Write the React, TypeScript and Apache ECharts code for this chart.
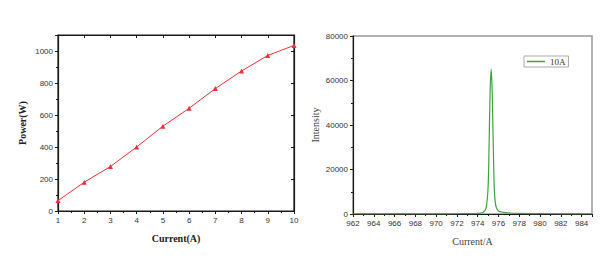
import React, { useEffect, useRef } from "react";
import * as echarts from "echarts";

const currentA = [1, 2, 3, 4, 5, 6, 7, 8, 9, 10];
const powerW = [65, 180, 278, 400, 530, 642, 765, 875, 972, 1035];

const wavelength = [962, 964, 966, 968, 970, 972, 973, 974, 974.5, 974.8, 975.0, 975.1, 975.2, 975.3, 975.4, 975.5, 975.6, 975.7, 975.8, 976.0, 976.5, 977, 978, 980, 982, 985];
const intensity = [50, 50, 60, 60, 80, 120, 180, 300, 700, 2500, 12000, 32000, 56000, 65000, 54000, 30000, 11000, 5000, 2800, 1300, 700, 450, 250, 150, 100, 80];

const tickFont = { fontFamily: "Liberation Sans, Arial, sans-serif", fontSize: 8, color: "#333", formatter: (v: number) => String(v) };
const serif = "Liberation Serif, Times New Roman, serif";

export default function App() {
  const ref = useRef<HTMLDivElement>(null);
  useEffect(() => {
    document.body.style.margin = "0";
    const chart = echarts.init(ref.current!, null, { renderer: "svg" });
    const axisLine = { show: true, onZero: false, lineStyle: { color: "#1a1a1a", width: 1.2 } };
    const tickLine = { color: "#1a1a1a", width: 1 };
    chart.setOption({
      animation: false,
      backgroundColor: "#fff",
      grid: [
        { left: 58, top: 35, width: 236, height: 176, show: true, borderColor: "#1a1a1a", borderWidth: 1.2, backgroundColor: "transparent" },
        { left: 353, top: 36, width: 239, height: 178, show: true, borderColor: "#999", borderWidth: 1.5, backgroundColor: "transparent" },
      ],
      legend: {
        data: ["10A"],
        left: 524,
        top: 56,
        orient: "vertical",
        borderColor: "#aaa",
        borderWidth: 1,
        padding: [1, 3, 1, 3],
        icon: "rect",
        itemWidth: 18,
        itemHeight: 1.5,
        itemGap: 2,
        textStyle: { fontFamily: serif, fontSize: 9, color: "#333" },
      },
      xAxis: [
        {
          gridIndex: 0, type: "value", min: 1, max: 10, interval: 1, position: "bottom",
          axisLine, splitLine: { show: false },
          axisTick: { show: true, length: 3, lineStyle: tickLine },
          minorTick: { show: true, splitNumber: 2, length: 2, lineStyle: tickLine },
          axisLabel: { ...tickFont, margin: 5 },
          name: "Current(A)", nameLocation: "middle", nameGap: 22,
          nameTextStyle: { fontFamily: serif, fontWeight: "bold", fontSize: 10, color: "#222" },
        },
        {
          gridIndex: 0, type: "value", min: 1, max: 10, interval: 1, position: "top",
          axisLine, splitLine: { show: false },
          axisTick: { show: true, inside: true, length: 3, lineStyle: tickLine },
          minorTick: { show: false },
          axisLabel: { show: false },
        },
        {
          gridIndex: 1, type: "value", min: 962, max: 985, interval: 2, position: "bottom",
          axisLine, splitLine: { show: false },
          axisTick: { show: true, length: 3, lineStyle: tickLine },
          minorTick: { show: true, splitNumber: 2, length: 2, lineStyle: tickLine },
          axisLabel: { ...tickFont, margin: 5, showMaxLabel: false },
          name: "Current/A", nameLocation: "middle", nameGap: 22,
          nameTextStyle: { fontFamily: serif, fontSize: 10, color: "#444" },
        },
      ],
      yAxis: [
        {
          gridIndex: 0, type: "value", min: 0, max: 1100, interval: 200, position: "left",
          axisLine, splitLine: { show: false },
          axisTick: { show: true, length: 3, lineStyle: tickLine },
          minorTick: { show: true, splitNumber: 2, length: 2, lineStyle: tickLine },
          axisLabel: { ...tickFont, margin: 5, showMaxLabel: false },
          name: "Power(W)", nameLocation: "middle", nameGap: 31,
          nameTextStyle: { fontFamily: serif, fontWeight: "bold", fontSize: 10, color: "#222" },
        },
        {
          gridIndex: 0, type: "value", min: 0, max: 1100, interval: 200, position: "right",
          axisLine, splitLine: { show: false },
          axisTick: { show: true, inside: true, length: 3, lineStyle: tickLine },
          minorTick: { show: false },
          axisLabel: { show: false },
        },
        {
          gridIndex: 1, type: "value", min: 0, max: 80000, interval: 20000, position: "left",
          axisLine, splitLine: { show: false },
          axisTick: { show: true, length: 3, lineStyle: tickLine },
          minorTick: { show: true, splitNumber: 2, length: 2, lineStyle: tickLine },
          axisLabel: { ...tickFont, margin: 5 },
          name: "Intensity", nameLocation: "middle", nameGap: 33,
          nameTextStyle: { fontFamily: serif, fontSize: 10, color: "#444" },
        },
      ],
      series: [
        {
          name: "Power",
          type: "line",
          xAxisIndex: 0,
          yAxisIndex: 0,
          data: currentA.map((x, i) => [x, powerW[i]]),
          symbol: "triangle",
          symbolSize: 5,
          lineStyle: { color: "#e8333a", width: 1 },
          itemStyle: { color: "#e8333a" },
        },
        {
          name: "10A",
          type: "line",
          xAxisIndex: 2,
          yAxisIndex: 2,
          data: wavelength.map((x, i) => [x, intensity[i]]),
          symbol: "none",
          smooth: 0.3,
          lineStyle: { color: "#3fa33f", width: 1.2 },
          itemStyle: { color: "#3fa33f" },
        },
      ],
    });
    return () => chart.dispose();
  }, []);
  return <div ref={ref} style={{ width: 612, height: 276 }} />;
}
